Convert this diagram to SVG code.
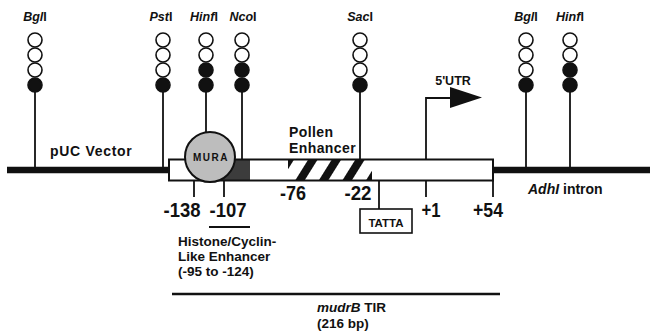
<svg xmlns="http://www.w3.org/2000/svg" width="650" height="336" viewBox="0 0 650 336">
<style>
.t{font-family:"Liberation Sans",Arial,sans-serif;fill:#111;font-weight:bold}
.site{font-family:"Liberation Sans",Arial,sans-serif;fill:#111;font-weight:bold;font-style:italic;font-size:12.5px;text-anchor:middle}
.num{font-family:"Liberation Sans",Arial,sans-serif;fill:#111;font-size:20px;font-weight:bold;text-anchor:middle}
.o{fill:#fff;stroke:#111;stroke-width:1.6}
.f{fill:#111;stroke:#111;stroke-width:1.6}
.ln{stroke:#111;stroke-width:1.8;fill:none}
</style>
<defs>
<pattern id="hatch" patternUnits="userSpaceOnUse" width="20" height="20" patternTransform="translate(290,0) rotate(32)">
<rect width="20" height="20" fill="#fff"/>
<rect x="0" y="0" width="8" height="20" fill="#111"/>
</pattern>
</defs>
<rect width="650" height="336" fill="#fff"/>

<g id="connectors">
<line class="ln" x1="35" y1="92" x2="35" y2="168"/>
<line class="ln" x1="163" y1="92" x2="163" y2="168"/>
<line class="ln" x1="206" y1="92" x2="206" y2="133"/>
<line class="ln" x1="242" y1="92" x2="242" y2="159"/>
<line class="ln" x1="360" y1="92" x2="360" y2="159"/>
<line class="ln" x1="526" y1="92" x2="526" y2="168"/>
<line class="ln" x1="570" y1="92" x2="570" y2="168"/>
<line class="ln" x1="194" y1="181" x2="194" y2="197"/>
<line class="ln" x1="224" y1="181" x2="224" y2="197"/>
<line class="ln" x1="379" y1="181" x2="379" y2="209"/>
<line class="ln" x1="493" y1="181" x2="493" y2="197"/>
<polyline class="ln" points="426,197 426,98 451,98"/>
<polygon points="450,87 450,108 482,97.5" fill="#111"/>
</g>

<g id="vector-left"><line x1="7" y1="170" x2="169" y2="170" stroke="#111" stroke-width="6.5"/></g>
<g id="adh-intron"><line x1="492" y1="170" x2="650" y2="170" stroke="#111" stroke-width="6.5"/></g>

<g id="tir-box">
<rect x="169" y="159.5" width="324" height="21" fill="#fff"/>
<rect x="220" y="160" width="30" height="20" fill="#3c3c3c"/>
<rect x="288" y="160" width="84" height="20" fill="url(#hatch)"/>
<rect x="169" y="159.5" width="324" height="21" fill="none" stroke="#111" stroke-width="2"/>
</g>

<g id="mura">
<circle cx="210" cy="157" r="25" fill="#bdbdbd" stroke="#111" stroke-width="2"/>
<text class="t" x="211" y="161" font-size="10" letter-spacing="1.5" text-anchor="middle" fill="#333">MURA</text>
</g>

<g id="site-bgl1">
<text class="site" x="35" y="21">Bgl<tspan font-style="normal">I</tspan></text>
<circle class="o" cx="35" cy="40" r="7"/><circle class="o" cx="35" cy="55" r="7"/><circle class="o" cx="35" cy="70" r="7"/><circle class="f" cx="35" cy="85" r="7"/>
</g>
<g id="site-pst">
<text class="site" x="161" y="21">Pst<tspan font-style="normal">I</tspan></text>
<circle class="o" cx="163" cy="40" r="7"/><circle class="o" cx="163" cy="55" r="7"/><circle class="o" cx="163" cy="70" r="7"/><circle class="f" cx="163" cy="85" r="7"/>
</g>
<g id="site-hinf1">
<text class="site" x="204" y="21">Hinf<tspan font-style="normal">I</tspan></text>
<circle class="o" cx="206" cy="40" r="7"/><circle class="o" cx="206" cy="55" r="7"/><circle class="f" cx="206" cy="70" r="7"/><circle class="f" cx="206" cy="85" r="7"/>
</g>
<g id="site-nco">
<text class="site" x="243" y="21">Nco<tspan font-style="normal">I</tspan></text>
<circle class="o" cx="242" cy="40" r="7"/><circle class="o" cx="242" cy="55" r="7"/><circle class="f" cx="242" cy="70" r="7"/><circle class="f" cx="242" cy="85" r="7"/>
</g>
<g id="site-sac">
<text class="site" x="360" y="21">Sac<tspan font-style="normal">I</tspan></text>
<circle class="o" cx="360" cy="40" r="7"/><circle class="o" cx="360" cy="55" r="7"/><circle class="o" cx="360" cy="70" r="7"/><circle class="f" cx="360" cy="85" r="7"/>
</g>
<g id="site-bgl2">
<text class="site" x="526" y="21">Bgl<tspan font-style="normal">I</tspan></text>
<circle class="o" cx="526" cy="40" r="7"/><circle class="o" cx="526" cy="55" r="7"/><circle class="o" cx="526" cy="70" r="7"/><circle class="f" cx="526" cy="85" r="7"/>
</g>
<g id="site-hinf2">
<text class="site" x="570" y="21">Hinf<tspan font-style="normal">I</tspan></text>
<circle class="o" cx="570" cy="40" r="7"/><circle class="o" cx="570" cy="55" r="7"/><circle class="f" cx="570" cy="70" r="7"/><circle class="f" cx="570" cy="85" r="7"/>
</g>

<g id="labels">
<text class="t" x="50" y="156" font-size="14" letter-spacing="0.7">pUC Vector</text>
<text class="t" x="289" y="137" font-size="14" letter-spacing="0.4">Pollen</text>
<text class="t" x="289" y="153" font-size="14" letter-spacing="0.4">Enhancer</text>
<text class="t" x="453" y="85" font-size="12.5" text-anchor="middle">5'UTR</text>
<text class="t" x="528" y="194" font-size="14"><tspan font-style="italic">AdhI</tspan> intron</text>
<text class="num" x="182" y="217" textLength="37" lengthAdjust="spacingAndGlyphs">-138</text>
<text class="num" x="228" y="217" textLength="37" lengthAdjust="spacingAndGlyphs">-107</text>
<text class="num" x="293" y="200" textLength="26" lengthAdjust="spacingAndGlyphs">-76</text>
<text class="num" x="358" y="200" textLength="27" lengthAdjust="spacingAndGlyphs">-22</text>
<text class="num" x="431" y="217" textLength="19" lengthAdjust="spacingAndGlyphs">+1</text>
<text class="num" x="488" y="217" textLength="30" lengthAdjust="spacingAndGlyphs">+54</text>
</g>

<g id="tatta">
<rect x="360" y="209" width="52" height="24" fill="#fff" stroke="#111" stroke-width="1.6"/>
<text class="t" x="386" y="227" font-size="11.5" text-anchor="middle">TATTA</text>
</g>

<g id="histone">
<line x1="209" y1="227" x2="250" y2="227" stroke="#111" stroke-width="2"/>
<text class="t" x="178" y="246" font-size="13.5">Histone/Cyclin-</text>
<text class="t" x="178" y="261" font-size="13.5">Like Enhancer</text>
<text class="t" x="178" y="276" font-size="13.5">(-95 to -124)</text>
</g>

<g id="tir-span">
<line x1="172" y1="294" x2="500" y2="294" stroke="#111" stroke-width="2.5"/>
<text class="t" x="317" y="312" font-size="13.5"><tspan font-style="italic">mudrB</tspan> TIR</text>
<text class="t" x="317" y="328" font-size="13.5">(216 bp)</text>
</g>
</svg>
